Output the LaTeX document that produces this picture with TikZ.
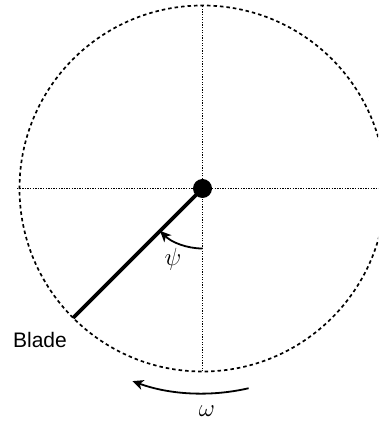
\documentclass[tikz,border=0pt]{standalone}
\usepackage{fontspec}
\setsansfont{Liberation Sans}
\usetikzlibrary{arrows.meta,calc}
\begin{document}
\begin{tikzpicture}[x=1pt,y=1pt,
  rim/.style={line width=1.7pt, dash pattern=on 3.5pt off 3pt},
  axis/.style={line width=1.7pt, dash pattern=on 1.3pt off 1.3pt},
  blade/.style={line width=3.6pt},
  turn/.style={line width=1.8pt, -{Stealth[length=11pt,width=10pt,inset=3pt]}},
  lbl/.style={inner sep=0pt}]
\useasboundingbox (0,0) rectangle (378,422);
\clip (0,0) rectangle (378,422);
\coordinate (c) at (202.5,233.5);
\draw[rim] (c) circle[radius=183];
\coordinate (vtop) at (202.5,416.5);
\coordinate (vbot) at (202.5,50.5);
\coordinate (hl) at (17,233.5);
\coordinate (hr) at (385,233.5);
\draw[axis] (vbot) -- (vtop);
\draw[axis] (hl) -- (hr);
\coordinate (tip) at (202.5-129.4,233.5-129.4);
\draw[blade] (c) -- (tip);
\node[circle, fill=black, minimum size=19pt, inner sep=0pt] (hub) at (c) {};
\draw[turn] ($(c)+(-90:60)$) arc[start angle=-90, end angle=-135, radius=60];
\draw[turn] ($(c)+(-77:205)$) arc[start angle=-77, end angle=-110, radius=205];
\node[lbl, font=\sffamily\fontsize{21}{24}\selectfont] (bl) at (40,82) {Blade};
\node[lbl, font=\fontsize{23}{26}\selectfont] (psi) at (173,163) {$\psi$};
\node[lbl, font=\fontsize{26}{28}\selectfont] (om) at (207,11) {$\omega$};
\end{tikzpicture}
\end{document}
